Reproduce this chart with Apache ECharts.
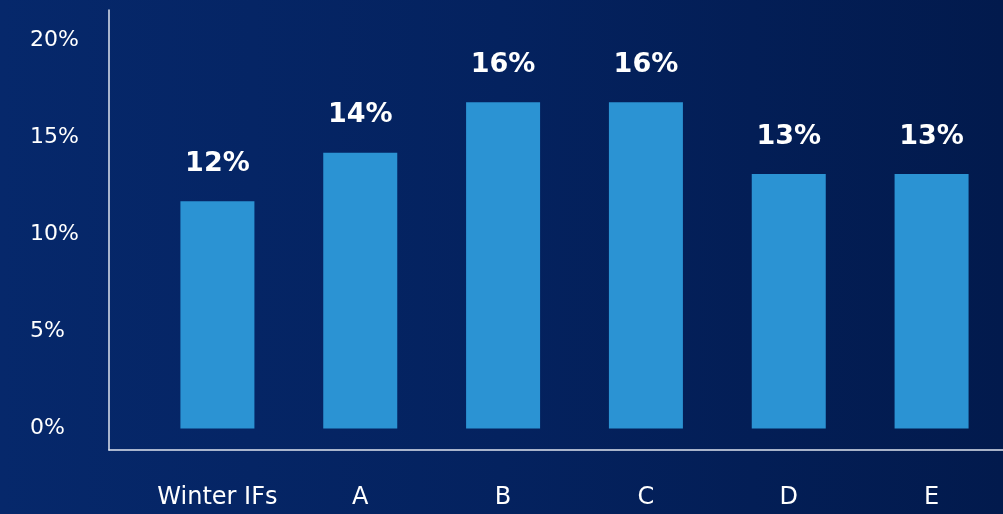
<!DOCTYPE html>
<html><head><meta charset="utf-8">
<script src="https://cdn.jsdelivr.net/npm/echarts@6/dist/echarts.min.js"></script>
<style>html,body{margin:0;padding:0;}#c{width:1003px;height:514px;background:linear-gradient(90deg,#06286b 0%,#04225f 50%,#021a4d 100%);}</style>
</head><body><div id="c"></div>
<script>
const categories = ['Winter IFs', 'A', 'B', 'C', 'D', 'E'];
const values = [11.7, 14.2, 16.8, 16.8, 13.1, 13.1];
const valueLabels = ['12%', '14%', '16%', '16%', '13%', '13%'];
const yTicks = [0, 5, 10, 15, 20];

const chart = echarts.init(document.getElementById('c'));
chart.setOption({
  animation: false,
  backgroundColor: 'transparent',
  grid: [
    { left: 146, right: 0, top: 40, bottom: 85.5 },
    { left: 109, right: 0, top: 10, bottom: 64 }
  ],
  xAxis: [
    { type: 'category', gridIndex: 0, data: categories,
      axisLine: { show: false }, axisTick: { show: false },
      axisLabel: { interval: 0, color: '#ffffff', fontSize: 24, fontFamily: 'DejaVu Sans', margin: 57 } },
    { type: 'value', gridIndex: 1, min: 0, max: 1,
      axisLine: { show: true, onZero: false, lineStyle: { color: '#dfe5ef', width: 1.5 } },
      axisTick: { show: false }, axisLabel: { show: false }, splitLine: { show: false } }
  ],
  yAxis: [
    { type: 'value', gridIndex: 0, min: yTicks[0], max: yTicks[yTicks.length - 1], interval: 5,
      axisLine: { show: false }, axisTick: { show: false }, splitLine: { show: false },
      axisLabel: { color: '#ffffff', fontSize: 22, fontFamily: 'DejaVu Sans', align: 'left', margin: 116,
        formatter: v => v + '%' } },
    { type: 'value', gridIndex: 1, min: 0, max: 1,
      axisLine: { show: true, onZero: false, lineStyle: { color: '#dfe5ef', width: 1.5 } },
      axisTick: { show: false }, axisLabel: { show: false }, splitLine: { show: false } }
  ],
  series: [{
    type: 'bar', xAxisIndex: 0, yAxisIndex: 0,
    data: values, barWidth: 74,
    itemStyle: { color: '#2b93d3' },
    label: { show: true, position: 'top', distance: 24, color: '#ffffff', fontSize: 27,
      fontWeight: 'bold', fontFamily: 'DejaVu Sans',
      formatter: p => valueLabels[p.dataIndex] }
  }]
});
</script></body></html>
